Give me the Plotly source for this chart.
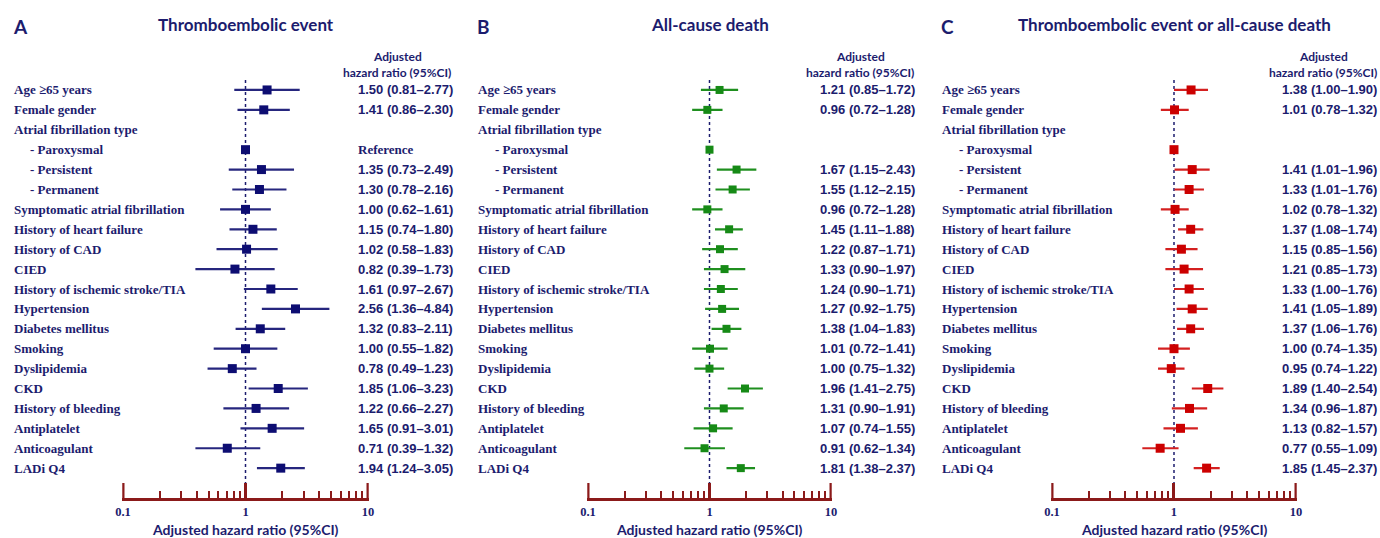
import plotly.graph_objects as go

labels = ["Age \u226565 years", "Female gender", "Atrial fibrillation type", "- Paroxysmal",
          "- Persistent", "- Permanent", "Symptomatic atrial fibrillation", "History of heart failure",
          "History of CAD", "CIED", "History of ischemic stroke/TIA", "Hypertension",
          "Diabetes mellitus", "Smoking", "Dyslipidemia", "CKD", "History of bleeding",
          "Antiplatelet", "Anticoagulant", "LADi Q4"]
indented = [False, False, False, True, True, True] + [False] * 14

# Panel A: Thromboembolic event
hr_a = [1.50, 1.41, None, 1.00, 1.35, 1.30, 1.00, 1.15, 1.02, 0.82, 1.61, 2.56, 1.32, 1.00, 0.78, 1.85, 1.22, 1.65, 0.71, 1.94]
lo_a = [0.81, 0.86, None, 1.00, 0.73, 0.78, 0.62, 0.74, 0.58, 0.39, 0.97, 1.36, 0.83, 0.55, 0.49, 1.06, 0.66, 0.91, 0.39, 1.24]
hi_a = [2.77, 2.30, None, 1.00, 2.49, 2.16, 1.61, 1.80, 1.83, 1.73, 2.67, 4.84, 2.11, 1.82, 1.23, 3.23, 2.27, 3.01, 1.32, 3.05]

# Panel B: All-cause death
hr_b = [1.21, 0.96, None, 1.00, 1.67, 1.55, 0.96, 1.45, 1.22, 1.33, 1.24, 1.27, 1.38, 1.01, 1.00, 1.96, 1.31, 1.07, 0.91, 1.81]
lo_b = [0.85, 0.72, None, 1.00, 1.15, 1.12, 0.72, 1.11, 0.87, 0.90, 0.90, 0.92, 1.04, 0.72, 0.75, 1.41, 0.90, 0.74, 0.62, 1.38]
hi_b = [1.72, 1.28, None, 1.00, 2.43, 2.15, 1.28, 1.88, 1.71, 1.97, 1.71, 1.75, 1.83, 1.41, 1.32, 2.75, 1.91, 1.55, 1.34, 2.37]

# Panel C: Thromboembolic event or all-cause death
hr_c = [1.38, 1.01, None, 1.00, 1.41, 1.33, 1.02, 1.37, 1.15, 1.21, 1.33, 1.41, 1.37, 1.00, 0.95, 1.89, 1.34, 1.13, 0.77, 1.85]
lo_c = [1.00, 0.78, None, 1.00, 1.01, 1.01, 0.78, 1.08, 0.85, 0.85, 1.00, 1.05, 1.06, 0.74, 0.74, 1.40, 0.96, 0.82, 0.55, 1.45]
hi_c = [1.90, 1.32, None, 1.00, 1.96, 1.76, 1.32, 1.74, 1.56, 1.73, 1.76, 1.89, 1.76, 1.35, 1.22, 2.54, 1.87, 1.57, 1.09, 2.37]

ref_text_a = "Reference"

panel_letters = ["A", "B", "C"]
panel_titles = ["Thromboembolic event", "All-cause death", "Thromboembolic event or all-cause death"]
tick_vals = [0.1, 1, 10]
tick_text = ["0.1", "1", "10"]
minor_vals = [0.2, 0.3, 0.4, 0.5, 0.6, 0.7, 0.8, 0.9, 2, 3, 4, 5, 6, 7, 8, 9]
x_title = "Adjusted hazard ratio (95%CI)"

W, H = 1380, 538
NAVY = "#1c1c6e"
AXC = "#8b1a1a"

panels = [
    dict(hr=hr_a, lo=lo_a, hi=hi_a, color="#0d0d72", lcolor="#26267e", ax0=123, ax1=368,
         lab=12, ind=28, valr=455, hdr=397, ref=True, msize=9),
    dict(hr=hr_b, lo=lo_b, hi=hi_b, color="#168a16", lcolor="#1f8f1f", ax0=588, ax1=831,
         lab=476, ind=493, valr=917, hdr=860, ref=False, msize=8),
    dict(hr=hr_c, lo=lo_c, hi=hi_c, color="#cc0000", lcolor="#d42020", ax0=1052, ax1=1296,
         lab=940, ind=957, valr=1379, hdr=1323, ref=False, msize=9),
]

fig = go.Figure()
ann = []
shapes = []

def px(x):
    return x / W

def py(y):
    return 1 - y / H

y_top, y_bot = 80, 498
row_px = (y_bot - y_top) / 21.0
ext = 0.006  # tiny range padding
for k, p in enumerate(panels):
    xa = "x" if k == 0 else f"x{k+1}"
    xkey = "xaxis" if k == 0 else f"xaxis{k+1}"
    rows = [i for i, v in enumerate(p["hr"]) if v is not None]
    xs = [p["hr"][i] for i in rows]
    plus = [p["hi"][i] - p["hr"][i] for i in rows]
    minus = [p["hr"][i] - p["lo"][i] for i in rows]
    fig.add_trace(go.Scatter(
        x=xs, y=rows, xaxis=xa, yaxis="y", mode="markers",
        marker=dict(symbol="square", size=p["msize"], color=p["color"]),
        error_x=dict(type="data", symmetric=False, array=plus, arrayminus=minus,
                     width=0, thickness=2.2, color=p["lcolor"]),
        cliponaxis=False, showlegend=False, hoverinfo="skip"))
    # reference dotted line at HR=1
    shapes.append(dict(type="line", xref=xa, yref="y", x0=1, x1=1, y0=-0.5, y1=20.5,
                       line=dict(color=NAVY, width=1.5, dash="dot"), layer="below"))
    # end major ticks (plotly hides inside ticks at the axis ends)
    for tv in (tick_vals[0], tick_vals[-1]):
        shapes.append(dict(type="line", xref=xa, yref="y", x0=tv, x1=tv,
                           y0=20.5, y1=20.5 - 15 / row_px,
                           line=dict(color=AXC, width=3), layer="above"))
    span = p["ax1"] - p["ax0"]
    pad = span * ext / 2
    fig.layout[xkey] = dict(
        type="log", range=[-1 - ext, 1 + ext],
        domain=[px(p["ax0"] - pad), px(p["ax1"] + pad)], anchor="y",
        showgrid=False, zeroline=False, showline=True, linecolor=AXC, linewidth=3,
        ticks="inside", ticklen=15, tickwidth=3, tickcolor=AXC,
        tickvals=tick_vals, ticktext=[f"<b>{t}</b>" for t in tick_text],
        tickfont=dict(family="Liberation Serif", size=12.5, color=NAVY),
        minor=dict(tickvals=minor_vals, ticks="inside", ticklen=7, tickwidth=2,
                   tickcolor=AXC, showgrid=False),
        automargin=False, fixedrange=True)
    cx = (p["ax0"] + p["ax1"]) / 2
    # labels
    for i, lab in enumerate(labels):
        ann.append(dict(x=px(p["ind"] if indented[i] else p["lab"]), xref="paper", y=i, yref="y",
                        text=f"<b>{lab}</b>", showarrow=False, xanchor="left", yanchor="middle",
                        font=dict(family="Liberation Serif", size=13, color=NAVY)))
        if p["hr"][i] is None:
            continue
        if p["lo"][i] == p["hi"][i]:
            if p["ref"]:
                ann.append(dict(x=px(p["valr"] - 99), xref="paper", y=i, yref="y",
                                text=f"<b>{ref_text_a}</b>", showarrow=False, xanchor="left",
                                yanchor="middle",
                                font=dict(family="Liberation Serif", size=13, color=NAVY)))
            continue
        txt = f"<b>{p['hr'][i]:.2f} ({p['lo'][i]:.2f}\u2013{p['hi'][i]:.2f})</b>"
        ann.append(dict(x=px(p["valr"]), xref="paper", y=i, yref="y", text=txt,
                        showarrow=False, xanchor="right", yanchor="middle",
                        font=dict(family="Liberation Sans", size=13, color=NAVY)))
    # header
    ann.append(dict(x=px(p["hdr"]), xref="paper", y=py(57), yref="paper", text="<b>Adjusted</b>",
                    showarrow=False, xanchor="center", yanchor="middle",
                    font=dict(family="Lato", size=12, color=NAVY)))
    ann.append(dict(x=px(p["hdr"]), xref="paper", y=py(72), yref="paper",
                    text="<b>hazard ratio (95%CI)</b>", showarrow=False, xanchor="center",
                    yanchor="middle", font=dict(family="Lato", size=12, color=NAVY)))
    # title & letter
    ann.append(dict(x=px(cx), xref="paper", y=py(24), yref="paper",
                    text=f"<b>{panel_titles[k]}</b>", showarrow=False, xanchor="center",
                    yanchor="middle", font=dict(family="Lato", size=17, color=NAVY)))
    ann.append(dict(x=px(p["lab"] - 1), xref="paper", y=py(27), yref="paper",
                    text=f"<b>{panel_letters[k]}</b>", showarrow=False, xanchor="left",
                    yanchor="middle", font=dict(family="Lato", size=19, color=NAVY)))
    # x title
    ann.append(dict(x=px(cx), xref="paper", y=py(529), yref="paper", text=f"<b>{x_title}</b>",
                    showarrow=False, xanchor="center", yanchor="middle",
                    font=dict(family="Lato", size=14, color=NAVY)))

fig.update_layout(
    width=W, height=H, margin=dict(l=0, r=0, t=0, b=0, pad=0, autoexpand=False),
    paper_bgcolor="white", plot_bgcolor="white",
    yaxis=dict(range=[20.5, -0.5], domain=[py(y_bot), py(y_top)], visible=False,
               showgrid=False, zeroline=False, fixedrange=True, automargin=False),
    annotations=ann, shapes=shapes, showlegend=False)

fig.write_html("out.html", config={"displayModeBar": False},
               post_script="document.body.style.margin='0';document.body.style.padding='0';"
                           "document.body.style.overflow='hidden';")
